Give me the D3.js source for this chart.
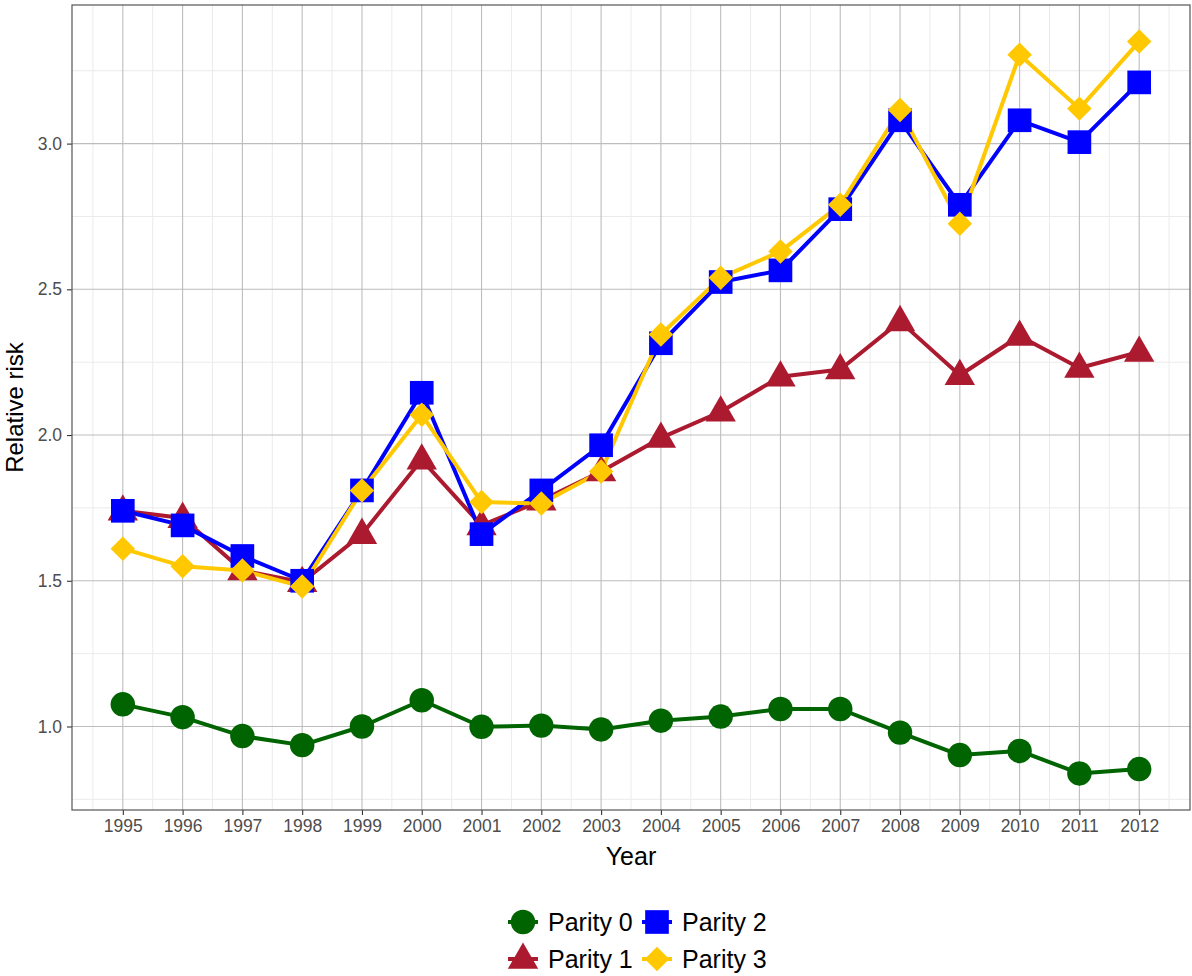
<!doctype html>
<html>
<head>
<script src="https://d3js.org/d3.v7.min.js"></script>
<style>
  body { margin: 0; background: #fff; }
  text { font-family: "Liberation Sans", Arial, sans-serif; }
</style>
</head>
<body>
<script>
    // data
    var years = [1995, 1996, 1997, 1998, 1999, 2000, 2001, 2002, 2003, 2004, 2005, 2006, 2007, 2008, 2009, 2010, 2011, 2012];
    var parity0 = [1.076, 1.032, 0.967, 0.936, 1.000, 1.090, 0.999, 1.003, 0.990, 1.020, 1.034, 1.060, 1.060, 0.979, 0.902, 0.916, 0.839, 0.854];
    var parity1 = [1.740, 1.715, 1.535, 1.495, 1.660, 1.915, 1.690, 1.775, 1.875, 1.990, 2.080, 2.200, 2.225, 2.390, 2.205, 2.340, 2.230, 2.285];
    var parity2 = [1.740, 1.690, 1.585, 1.500, 1.810, 2.145, 1.660, 1.810, 1.965, 2.315, 2.525, 2.565, 2.775, 3.080, 2.790, 3.080, 3.005, 3.210];
    var parity3 = [1.610, 1.550, 1.535, 1.480, 1.810, 2.070, 1.770, 1.765, 1.875, 2.345, 2.540, 2.630, 2.790, 3.115, 2.725, 3.305, 3.120, 3.350];
    var seriesNames = ["Parity 0", "Parity 1", "Parity 2", "Parity 3"];
    var yTicks = [1.0, 1.5, 2.0, 2.5, 3.0];

    var series = [
        {name: seriesNames[0], values: parity0, color: "#006400", shape: "circle"},
        {name: seriesNames[1], values: parity1, color: "#AC1A2F", shape: "triangle"},
        {name: seriesNames[2], values: parity2, color: "#0000FF", shape: "square"},
        {name: seriesNames[3], values: parity3, color: "#FFC800", shape: "diamond"}
    ];

    var W = 1192, H = 976;
    var panel = {left: 72, top: 5, right: 1190, bottom: 810};

    var svg = d3.select("body").append("svg")
        .attr("width", W)
        .attr("height", H);

    // ggplot style 5% expansion
    var allVals = parity0.concat(parity1, parity2, parity3);
    var yMin = d3.min(allVals), yMax = d3.max(allVals);
    var yPad = (yMax - yMin) * 0.05;
    var xPad = (years[years.length - 1] - years[0]) * 0.05;

    var xScale = d3.scaleLinear()
        .domain([years[0] - xPad, years[years.length - 1] + xPad])
        .range([panel.left, panel.right]);
    var yScale = d3.scaleLinear()
        .domain([yMin - yPad, yMax + yPad])
        .range([panel.bottom, panel.top]);

    // grid
    var grid = svg.append("g");
    var xMinor = [years[0] - 0.5].concat(years.map(function(d) { return d + 0.5; }));
    var yMinor = [0.75, 1.25, 1.75, 2.25, 2.75, 3.25];

    grid.selectAll(".xminor").data(xMinor).enter().append("line")
        .attr("x1", function(d) { return xScale(d); })
        .attr("x2", function(d) { return xScale(d); })
        .attr("y1", panel.top).attr("y2", panel.bottom)
        .attr("stroke", "#ebebeb").attr("stroke-width", 1);
    grid.selectAll(".yminor").data(yMinor).enter().append("line")
        .attr("y1", function(d) { return yScale(d); })
        .attr("y2", function(d) { return yScale(d); })
        .attr("x1", panel.left).attr("x2", panel.right)
        .attr("stroke", "#ebebeb").attr("stroke-width", 1);
    grid.selectAll(".xmajor").data(years).enter().append("line")
        .attr("x1", function(d) { return xScale(d); })
        .attr("x2", function(d) { return xScale(d); })
        .attr("y1", panel.top).attr("y2", panel.bottom)
        .attr("stroke", "#bdbdbd").attr("stroke-width", 1.1);
    grid.selectAll(".ymajor").data(yTicks).enter().append("line")
        .attr("y1", function(d) { return yScale(d); })
        .attr("y2", function(d) { return yScale(d); })
        .attr("x1", panel.left).attr("x2", panel.right)
        .attr("stroke", "#bdbdbd").attr("stroke-width", 1.1);

    // axes
    var xAxis = svg.append("g")
        .attr("transform", "translate(0," + panel.bottom + ")")
        .call(d3.axisBottom(xScale).tickValues(years).tickFormat(d3.format("d")).tickSize(5).tickPadding(5));
    var yAxis = svg.append("g")
        .attr("transform", "translate(" + panel.left + ",0)")
        .call(d3.axisLeft(yScale).tickValues(yTicks).tickFormat(d3.format(".1f")).tickSize(5).tickPadding(5));
    [xAxis, yAxis].forEach(function(a) {
        a.select(".domain").remove();
        a.selectAll(".tick line").attr("stroke", "#333").attr("stroke-width", 1.1);
        a.selectAll(".tick text")
            .attr("fill", "#4d4d4d")
            .style("font-size", "17.5px")
            .style("font-family", "'Liberation Sans', Arial, sans-serif");
    });

    // panel border
    svg.append("rect")
        .attr("x", panel.left).attr("y", panel.top)
        .attr("width", panel.right - panel.left)
        .attr("height", panel.bottom - panel.top)
        .attr("fill", "none").attr("stroke", "#555").attr("stroke-width", 1.2);

    // axis titles
    svg.append("text")
        .attr("x", (panel.left + panel.right) / 2)
        .attr("y", 865)
        .attr("text-anchor", "middle")
        .style("font-size", "25px")
        .text("Year");
    svg.append("text")
        .attr("transform", "translate(23," + ((panel.top + panel.bottom) / 2) + ") rotate(-90)")
        .attr("text-anchor", "middle")
        .style("font-size", "24px")
        .text("Relative risk");

    // shapes
    var symbolFor = {
        circle: d3.symbol().type(d3.symbolCircle).size(470),
        triangle: d3.symbol().type(d3.symbolTriangle).size(400),
        square: d3.symbol().type(d3.symbolSquare).size(560),
        diamond: d3.symbol().type(d3.symbolSquare).size(300)
    };
    function drawShape(g, shape, color) {
        var p = g.append("path").attr("d", symbolFor[shape]()).attr("fill", color);
        if (shape === "diamond") p.attr("transform", "rotate(45)");
        if (shape === "triangle") p.attr("transform", "translate(0,1)");
        return p;
    }

    // lines first, then points
    var line = d3.line()
        .x(function(d, i) { return xScale(years[i]); })
        .y(function(d) { return yScale(d); });

    series.forEach(function(s) {
        svg.append("path")
            .datum(s.values)
            .attr("d", line)
            .attr("fill", "none")
            .attr("stroke", s.color)
            .attr("stroke-width", 4)
            .attr("stroke-linejoin", "round");
    });

    series.forEach(function(s) {
        svg.append("g").selectAll("g").data(s.values).enter().append("g")
            .attr("transform", function(d, i) { return "translate(" + xScale(years[i]) + "," + yScale(d) + ")"; })
            .each(function() { drawShape(d3.select(this), s.shape, s.color); });
    });

    // legend (2 rows, filled by column)
    var legend = svg.append("g");
    var legendPos = [
        {x: 523, y: 922}, {x: 523, y: 959},
        {x: 657, y: 922}, {x: 657, y: 959}
    ];
    series.forEach(function(s, i) {
        var g = legend.append("g")
            .attr("transform", "translate(" + legendPos[i].x + "," + legendPos[i].y + ")");
        g.append("line")
            .attr("x1", -15).attr("x2", 15)
            .attr("stroke", s.color).attr("stroke-width", 4);
        drawShape(g, s.shape, s.color);
        g.append("text")
            .attr("x", 25)
            .attr("y", 9)
            .style("font-size", "25px")
            .attr("fill", "#000")
            .text(s.name);
    });
</script>
</body>
</html>
